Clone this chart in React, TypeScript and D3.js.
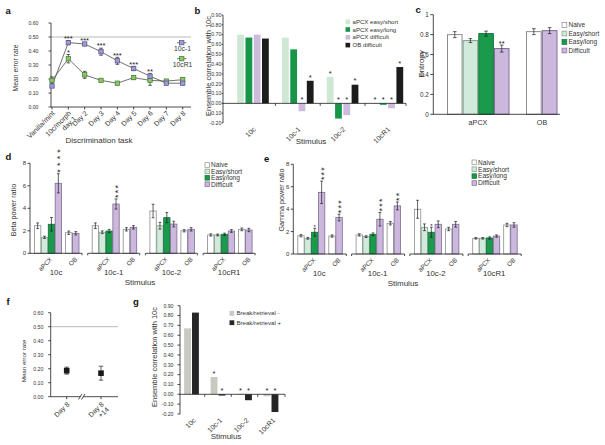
import React from 'react';
import * as d3 from 'd3';

const FONT = "'Liberation Sans', Arial, Helvetica, sans-serif";
const INK = '#1e1e1e';
const AX = 0.8;

// ---------------- Panel a data ----------------
const aTasks = ['Vanilla/mint', '10c/morph|day 1', 'Day 2', 'Day 3', 'Day 4', 'Day 5', 'Day 6', 'Day 7', 'Day 8'];
const a10c1 = [0.15, 0.46, 0.45, 0.395, 0.33, 0.275, 0.22, 0.17, 0.17];
const a10c1Err = [0.01, 0.015, 0.01, 0.025, 0.025, 0.015, 0.02, 0.01, 0.01];
const a10cR1 = [0.19, 0.345, 0.23, 0.19, 0.17, 0.21, 0.19, 0.185, 0.195];
const a10cR1Err = [0.025, 0.03, 0.025, 0.01, 0.01, 0.012, 0.035, 0.01, 0.012];
const a10c1Stars = ['', '***', '***', '***', '***', '***', '**', '', ''];
const a10cR1Stars = ['', '*', '', '', '', '', '', '', ''];
const errorTicks = [0, 0.1, 0.2, 0.3, 0.4, 0.5, 0.6];

// ---------------- Panel b data ----------------
const bStimuli = ['10c', '10c-1', '10c-2', '10cR1'];
const bSeries = ['aPCX easy/short', 'aPCX easy/long', 'aPCX difficult', 'OB difficult'];
const bEasyShort = [0.70, 0.67, 0.27, 0.004];
const bEasyLong = [0.67, 0.55, -0.155, -0.015];
const bDifficult = [0.70, -0.08, -0.12, -0.05];
const bOBDifficult = [0.66, 0.23, 0.19, 0.37];
const bEasyShortStars = ['', '', '*', '*'];
const bEasyLongStars = ['', '', '*', '*'];
const bDifficultStars = ['', '*', '*', '*'];
const bOBDifficultStars = ['', '*', '*', '*'];
const corrTicks = [-0.2, -0.1, 0, 0.1, 0.2, 0.3, 0.4, 0.5, 0.6, 0.7, 0.8, 0.9];

// ---------------- Panel c data ----------------
const cConditions = ['Naive', 'Easy/short', 'Easy/long', 'Difficult'];
const cAPCX = [0.80, 0.74, 0.81, 0.66];
const cAPCXErr = [0.03, 0.02, 0.025, 0.035];
const cAPCXStars = ['', '', '', '**'];
const cOBConditions = ['Naive', 'Difficult'];
const cOB = [0.83, 0.84];
const cOBErr = [0.03, 0.03];
const entropyTicks = [0, 0.2, 0.4, 0.6, 0.8, 1];

// ---------------- Panel d data (beta) ----------------
const powerStimuli = ['10c', '10c-1', '10c-2', '10cR1'];
const dNaive = [2.45, 2.45, 3.76, 1.63];
const dNaiveErr = [0.25, 0.25, 0.6, 0.1];
const dEasyShort = [1.42, 1.87, 2.45, 1.63];
const dEasyShortErr = [0.1, 0.12, 0.3, 0.08];
const dEasyLong = [2.58, 1.98, 3.17, 1.69];
const dEasyLongErr = [0.6, 0.15, 0.45, 0.1];
const dDifficult = [6.22, 4.38, 2.6, 1.98];
const dDifficultErr = [0.85, 0.45, 0.25, 0.12];
const dOBNaive = [1.83, 2.13, 2.0, 2.13];
const dOBNaiveErr = [0.15, 0.15, 0.1, 0.12];
const dOBDifficult = [1.78, 2.31, 2.13, 2.07];
const dOBDifficultErr = [0.15, 0.15, 0.15, 0.15];
const dEasyLongStars = ['', '', '', ''];
const dDifficultStars = ['****', '***', '', ''];
const dOBDifficultStars = ['', '', '', ''];

// ---------------- Panel e data (gamma) ----------------
const eNaive = [1.63, 1.7, 3.99, 1.4];
const eNaiveErr = [0.1, 0.1, 0.8, 0.07];
const eEasyShort = [1.4, 1.55, 2.38, 1.4];
const eEasyShortErr = [0.08, 0.08, 0.3, 0.07];
const eEasyLong = [1.94, 1.76, 1.94, 1.43];
const eEasyLongErr = [0.35, 0.12, 0.45, 0.1];
const eDifficult = [5.5, 3.1, 2.65, 1.6];
const eDifficultErr = [1.0, 0.6, 0.3, 0.1];
const eOBNaive = [1.6, 2.74, 2.23, 2.59];
const eOBNaiveErr = [0.1, 0.15, 0.15, 0.15];
const eOBDifficult = [3.25, 4.29, 2.65, 2.59];
const eOBDifficultErr = [0.3, 0.35, 0.25, 0.2];
const eEasyLongStars = ['*', '', '*', ''];
const eDifficultStars = ['***', '***', '', ''];
const eOBDifficultStars = ['***', '**', '', ''];
const powerTicks = [0, 2, 4, 6, 8];

// ---------------- Panel f data ----------------
const fDays = ['Day 8', 'Day 8|+14'];
const fValues = [0.186, 0.168];
const fErr = [0.025, 0.05];

// ---------------- Panel g data ----------------
const gStimuli = ['10c', '10c-1', '10c-2', '10cR1'];
const gSeries = ['Break/retrieval -', 'Break/retrieval +'];
const gMinus = [0.67, 0.176, 0.005, -0.02];
const gPlus = [0.83, -0.013, -0.06, -0.18];
const gMinusStars = ['', '*', '*', '*'];
const gPlusStars = ['', '*', '*', '*'];

// ---------------- colours ----------------
const COND_FILL = ['#ffffff', '#d2eadb', '#1b9a4b', '#cbb8dc'];
const COND_STROKE = ['#8c8c8c', '#7f9f8a', '#11703a', '#7e6c96'];
const B_FILL = ['#cfe8d6', '#17964a', '#cdbbdd', '#1c1c1c'];
const G_FILL = ['#c9c9c3', '#262626'];

// ---------------- helpers ----------------
function ErrBar({ x, y1, y2, cap = 1.6 }: any) {
  return (
    <g stroke={INK} strokeWidth={0.7}>
      <line x1={x} x2={x} y1={y1} y2={y2} />
      <line x1={x - cap} x2={x + cap} y1={y1} y2={y1} />
      <line x1={x - cap} x2={x + cap} y1={y2} y2={y2} />
    </g>
  );
}

function YAxis({ x, scale, ticks, fmt, fs, len = 2.5, gap = 1.5 }: any) {
  const [a, b] = scale.domain();
  return (
    <g>
      <line x1={x} x2={x} y1={scale(a)} y2={scale(b)} stroke={INK} strokeWidth={AX} />
      {ticks.map((t: number) => (
        <g key={t}>
          <line x1={x - len} x2={x} y1={scale(t)} y2={scale(t)} stroke={INK} strokeWidth={AX} />
          <text x={x - len - gap} y={scale(t)} dy="0.35em" textAnchor="end" fontSize={fs} fill="#333">
            {fmt(t)}
          </text>
        </g>
      ))}
    </g>
  );
}

function RotText({ x, y, text, fs }: any) {
  const lines = text.split('|');
  return (
    <text transform={`translate(${x},${y}) rotate(-45)`} textAnchor="end" fontSize={fs} fill="#333">
      {lines.map((l: string, i: number) => (
        <tspan key={i} x={0} dy={i === 0 ? '0.35em' : '1.05em'}>
          {l}
        </tspan>
      ))}
    </text>
  );
}

function VTitle({ x, y, text, fs }: any) {
  return (
    <text transform={`translate(${x},${y}) rotate(-90)`} textAnchor="middle" fontSize={fs} fill="#333">
      {text}
    </text>
  );
}

function HStars({ x, cy, s, fs = 7 }: any) {
  if (!s) return null;
  return (
    <text x={x} y={cy + 0.57 * fs} textAnchor="middle" fontSize={fs} fill={INK}>
      {s}
    </text>
  );
}

function VStars({ x, yb, s, fs = 9, ls = 1.2 }: any) {
  if (!s) return null;
  return (
    <text
      transform={`translate(${x + 0.57 * fs},${yb}) rotate(-90)`}
      textAnchor="start"
      fontSize={fs}
      letterSpacing={ls}
      fill={INK}
    >
      {s}
    </text>
  );
}

function Letter({ x, y, t }: any) {
  return (
    <text x={x} y={y} fontSize={9.5} fontWeight="bold" fill="#111">
      {t}
    </text>
  );
}

// ---------------- Panel a ----------------
function PanelA() {
  const x = d3.scalePoint<string>().domain(aTasks).range([52, 182.7]);
  const y = d3.scaleLinear().domain([0, 0.6]).range([107, 23]);
  const xs = aTasks.map((t) => x(t) as number);
  const line = d3
    .line<number>()
    .x((_, i) => xs[i])
    .y((d) => y(d));
  const series = [
    { v: a10cR1, e: a10cR1Err, s: a10cR1Stars, fill: '#8cc46a', stroke: '#3e7f2c' },
    { v: a10c1, e: a10c1Err, s: a10c1Stars, fill: '#9d98cf', stroke: '#55548e' },
  ];
  const m = 4.4;
  return (
    <g>
      <Letter x={5.5} y={13.5} t="a" />
      <line x1={51} x2={191} y1={y(0.5)} y2={y(0.5)} stroke="#a8a8a8" strokeWidth={0.8} />
      <YAxis x={51} scale={y} ticks={errorTicks} fmt={(t: number) => t.toFixed(2)} fs={5.2} gap={10} />
      <line x1={51} x2={191} y1={y(0)} y2={y(0)} stroke={INK} strokeWidth={AX} />
      {xs.map((xx, i) => (
        <line key={i} x1={xx} x2={xx} y1={y(0)} y2={y(0) + 2.5} stroke={INK} strokeWidth={AX} />
      ))}
      {aTasks.map((t, i) => (
        <RotText key={t} x={xs[i] + 1.5} y={112} text={t} fs={7} />
      ))}
      {series.map((s, k) => (
        <path key={k} d={line(s.v) as string} fill="none" stroke="#4d4d4d" strokeWidth={0.8} />
      ))}
      {series.map((s, k) =>
        s.v.map((v, i) => <ErrBar key={k + '-' + i} x={xs[i]} y1={y(v + s.e[i])} y2={y(v - s.e[i])} cap={1.8} />)
      )}
      {series.map((s, k) =>
        s.v.map((v, i) => (
          <rect
            key={'m' + k + i}
            x={xs[i] - m / 2}
            y={y(v) - m / 2}
            width={m}
            height={m}
            fill={s.fill}
            stroke={s.stroke}
            strokeWidth={0.7}
          />
        ))
      )}
      {series.map((s, k) =>
        s.v.map((v, i) => <HStars key={'s' + k + i} x={xs[i]} cy={y(v + s.e[i]) - 4} s={s.s[i]} fs={7.5} />)
      )}
      {/* legend */}
      {series
        .slice()
        .reverse()
        .map((s, k) => {
          const cy = 42.7 + k * 16;
          const label = k === 0 ? '10c-1' : '10cR1';
          return (
            <g key={'lg' + k}>
              <line x1={177} x2={186.5} y1={cy} y2={cy} stroke="#4d4d4d" strokeWidth={0.8} />
              <rect x={181.7 - m / 2} y={cy - m / 2} width={m} height={m} fill={s.fill} stroke={s.stroke} strokeWidth={0.7} />
              <text x={182.5} y={cy + 8.5} textAnchor="middle" fontSize={6.8} fill="#333">
                {label}
              </text>
            </g>
          );
        })}
      <VTitle x={17.5} y={68} text="Mean error rate" fs={6.8} />
      <text x={99} y={143} textAnchor="middle" fontSize={8} fill="#333">
        Discrimination task
      </text>
    </g>
  );
}

// ---------------- Panel b ----------------
function PanelB() {
  const y = d3.scaleLinear().domain([-0.2, 0.9]).range([123, 15]);
  const gx = d3.scalePoint<string>().domain(bStimuli).range([253, 387.4]);
  const bx = d3.scaleBand<string>().domain(bSeries).range([-15.8, 15.8]).paddingInner(0.18);
  const step = gx.step();
  const series = [
    { v: bEasyShort, s: bEasyShortStars },
    { v: bEasyLong, s: bEasyLongStars },
    { v: bDifficult, s: bDifficultStars },
    { v: bOBDifficult, s: bOBDifficultStars },
  ];
  const bounds = bStimuli.slice(0, 3).map((g) => (gx(g) as number) + step / 2);
  return (
    <g>
      <Letter x={194.5} y={13.5} t="b" />
      <YAxis x={223} scale={y} ticks={corrTicks} fmt={(t: number) => t.toFixed(2)} fs={5.2} len={1.3} gap={0.4} />
      {series.map((s, k) =>
        s.v.map((v, i) => {
          const xx = (gx(bStimuli[i]) as number) + (bx(bSeries[k]) as number);
          return (
            <rect
              key={k + '-' + i}
              x={xx}
              width={bx.bandwidth()}
              y={Math.min(y(v), y(0))}
              height={Math.abs(y(v) - y(0))}
              fill={B_FILL[k]}
            />
          );
        })
      )}
      <line x1={223} x2={406} y1={y(0)} y2={y(0)} stroke={INK} strokeWidth={AX} />
      {[...bounds, 406].map((b, i) => (
        <line key={i} x1={b} x2={b} y1={y(0)} y2={y(0) + 2.5} stroke={INK} strokeWidth={AX} />
      ))}
      {series.map((s, k) =>
        s.v.map((v, i) => {
          const xx = (gx(bStimuli[i]) as number) + (bx(bSeries[k]) as number) + bx.bandwidth() / 2;
          return <HStars key={'s' + k + i} x={xx} cy={y(Math.max(v, 0)) - 5.5} s={s.s[i]} fs={7.5} />;
        })
      )}
      {bStimuli.map((g) => (
        <RotText key={g} x={(gx(g) as number) + 1.5} y={128} text={g} fs={7} />
      ))}
      {/* legend */}
      {bSeries.map((name, k) => (
        <g key={name}>
          <rect x={345.5} y={21.7 + k * 7.8 - 2.3} width={4.6} height={4.6} fill={B_FILL[k]} />
          <text x={352.5} y={21.7 + k * 7.8} dy="0.35em" fontSize={6.1} fill="#333">
            {name}
          </text>
        </g>
      ))}
      <VTitle x={210.5} y={66} text="Ensemble correlation with 10c" fs={7.5} />
      <text x={311} y={143.5} textAnchor="middle" fontSize={8} fill="#333">
        Stimulus
      </text>
    </g>
  );
}

// ---------------- Panel c ----------------
function PanelC() {
  const y = d3.scaleLinear().domain([0, 1]).range([114.3, 14.7]);
  const ax = d3.scaleBand<string>().domain(cConditions).range([447.5, 509]).paddingInner(0.07);
  const ox = d3.scaleBand<string>().domain(cOBConditions).range([526.5, 557]).paddingInner(0.07);
  const bars = [
    ...cConditions.map((c, i) => ({ x: ax(c) as number, w: ax.bandwidth(), v: cAPCX[i], e: cAPCXErr[i], ci: i, s: cAPCXStars[i] })),
    ...cOBConditions.map((c, i) => ({ x: ox(c) as number, w: ox.bandwidth(), v: cOB[i], e: cOBErr[i], ci: cConditions.indexOf(c), s: '' })),
  ];
  return (
    <g>
      <Letter x={415.5} y={13} t="c" />
      <YAxis x={433.3} scale={y} ticks={entropyTicks} fmt={(t: number) => String(t)} fs={6.3} len={3} />
      {bars.map((b, i) => (
        <g key={i}>
          <rect
            x={b.x}
            width={b.w}
            y={y(b.v)}
            height={y(0) - y(b.v)}
            fill={COND_FILL[b.ci]}
            stroke={COND_STROKE[b.ci]}
            strokeWidth={1}
          />
          <ErrBar x={b.x + b.w / 2} y1={y(b.v + b.e)} y2={y(b.v - b.e)} cap={1.8} />
          <HStars x={b.x + b.w / 2} cy={y(b.v + b.e) - 3.5} s={b.s} fs={7.5} />
        </g>
      ))}
      <line x1={433.3} x2={560} y1={y(0)} y2={y(0)} stroke={INK} strokeWidth={AX} />
      <text x={478} y={124.5} textAnchor="middle" fontSize={7.2} fill="#333">
        aPCX
      </text>
      <text x={542} y={124.5} textAnchor="middle" fontSize={7.2} fill="#333">
        OB
      </text>
      {cConditions.map((c, k) => (
        <g key={c}>
          <rect
            x={562}
            y={25 + k * 8.5 - 2.4}
            width={4.8}
            height={4.8}
            fill={COND_FILL[k]}
            stroke={COND_STROKE[k]}
            strokeWidth={0.7}
          />
          <text x={568.5} y={25 + k * 8.5} dy="0.35em" fontSize={6.5} fill="#333">
            {c}
          </text>
        </g>
      ))}
      <VTitle x={423.5} y={64} text="Entropy" fs={8} />
    </g>
  );
}

// ---------------- Panels d & e ----------------
function PowerPanel(p: any) {
  const y = d3.scaleLinear().domain([0, 8]).range([p.yBase, p.yTop]);
  const stim = d3.scaleBand<string>().domain(powerStimuli).range([p.x0, p.x0 + p.step * 4]);
  const ab = d3.scaleBand<string>().domain(cConditions).range([4.5, 31.5]).paddingInner(0.08);
  const ob = d3.scaleBand<string>().domain(cOBConditions).range([35.5, 49]).paddingInner(0.08);
  const aSeries = [
    { v: p.naive, e: p.naiveErr, s: null },
    { v: p.es, e: p.esErr, s: null },
    { v: p.el, e: p.elErr, s: p.elStars },
    { v: p.diff, e: p.diffErr, s: p.diffStars },
  ];
  const oSeries = [
    { v: p.obN, e: p.obNErr, s: null, ci: 0 },
    { v: p.obD, e: p.obDErr, s: p.obDStars, ci: 3 },
  ];
  const base = y(0);
  return (
    <g>
      <Letter x={p.lx} y={p.ly} t={p.letter} />
      <YAxis x={p.x0} scale={y} ticks={powerTicks} fmt={(t: number) => String(t)} fs={6} len={2.5} />
      {powerStimuli.map((st, i) => {
        const sx = stim(st) as number;
        const end = sx + p.segLen;
        return (
          <g key={st}>
            {aSeries.map((s, k) => {
              const bx = sx + (ab(cConditions[k]) as number);
              const w = ab.bandwidth();
              const v = s.v[i];
              return (
                <g key={'a' + k}>
                  <rect x={bx} width={w} y={y(v)} height={base - y(v)} fill={COND_FILL[k]} stroke={COND_STROKE[k]} strokeWidth={0.8} />
                  <ErrBar x={bx + w / 2} y1={y(v + s.e[i])} y2={y(v - s.e[i])} cap={1.4} />
                  {k === 3 ? (
                    <VStars x={bx + w / 2} yb={y(v + s.e[i]) - 1} s={s.s ? s.s[i] : ''} fs={9} ls={p.ls ? p.ls[i] : 1.2} />
                  ) : (
                    <HStars x={bx + w / 2} cy={y(v + s.e[i]) - 2.5} s={s.s ? s.s[i] : ''} fs={6} />
                  )}
                </g>
              );
            })}
            {oSeries.map((s, k) => {
              const bx = sx + (ob(cOBConditions[k]) as number);
              const w = ob.bandwidth();
              const v = s.v[i];
              return (
                <g key={'o' + k}>
                  <rect x={bx} width={w} y={y(v)} height={base - y(v)} fill={COND_FILL[s.ci]} stroke={COND_STROKE[s.ci]} strokeWidth={0.8} />
                  <ErrBar x={bx + w / 2} y1={y(v + s.e[i])} y2={y(v - s.e[i])} cap={1.4} />
                  <VStars x={bx + w / 2} yb={y(v + s.e[i]) - 1} s={s.s ? s.s[i] : ''} fs={9} ls={1.2} />
                </g>
              );
            })}
            <line x1={sx} x2={end} y1={base} y2={base} stroke={INK} strokeWidth={AX} />
            {i > 0 && <line x1={sx} x2={sx} y1={base} y2={base + 2} stroke={INK} strokeWidth={AX} />}
            <line x1={end} x2={end} y1={base} y2={base + 2} stroke={INK} strokeWidth={AX} />
            <RotText x={sx + 18 + 3} y={base + 5} text="aPCX" fs={6.3} />
            <RotText x={sx + 42.2 + 4} y={base + 5} text="OB" fs={6.3} />
            <text x={sx + 26} y={base + 22} textAnchor="middle" fontSize={7.8} fill="#333">
              {st}
            </text>
          </g>
        );
      })}
      {cConditions.map((c, k) => (
        <g key={c}>
          <rect
            x={p.legX}
            y={p.legY + k * p.legStep - 2.3}
            width={4.6}
            height={4.6}
            fill={COND_FILL[k]}
            stroke={COND_STROKE[k]}
            strokeWidth={0.7}
          />
          <text x={p.legX + 6} y={p.legY + k * p.legStep} dy="0.35em" fontSize={6.6} fill="#333">
            {c}
          </text>
        </g>
      ))}
      <VTitle x={p.titleX} y={p.titleY} text={p.title} fs={7.2} />
      <text x={p.stimX} y={base + 32} textAnchor="middle" fontSize={8} fill="#333">
        Stimulus
      </text>
    </g>
  );
}

// ---------------- Panel f ----------------
function PanelF() {
  const y = d3.scaleLinear().domain([0, 0.6]).range([396.7, 312.7]);
  const x = d3.scalePoint<string>().domain(fDays).range([66.7, 101]);
  const m = 5.6;
  return (
    <g>
      <Letter x={6.5} y={305} t="f" />
      <line x1={50.7} x2={118} y1={y(0.5)} y2={y(0.5)} stroke="#a8a8a8" strokeWidth={0.8} />
      <YAxis x={50.7} scale={y} ticks={errorTicks} fmt={(t: number) => t.toFixed(2)} fs={5.2} gap={4.8} />
      <line x1={50.7} x2={118} y1={y(0)} y2={y(0)} stroke={INK} strokeWidth={AX} />
      <rect x={80.3} y={y(0) - 1.5} width={3} height={3} fill="#fff" />
      <line x1={78.5} x2={82} y1={y(0) + 2.8} y2={y(0) - 2.8} stroke={INK} strokeWidth={AX} />
      <line x1={81.5} x2={85} y1={y(0) + 2.8} y2={y(0) - 2.8} stroke={INK} strokeWidth={AX} />
      {fDays.map((d, i) => {
        const xx = x(d) as number;
        return (
          <g key={d}>
            <line x1={xx} x2={xx} y1={y(0)} y2={y(0) + 2.5} stroke={INK} strokeWidth={AX} />
            <ErrBar x={xx} y1={y(fValues[i] + fErr[i])} y2={y(fValues[i] - fErr[i])} cap={2.2} />
            <rect x={xx - m / 2} y={y(fValues[i]) - m / 2} width={m} height={m} fill="#1a1a1a" />
            <RotText x={xx + 1.5} y={403} text={d} fs={7} />
          </g>
        );
      })}
      <VTitle x={25.5} y={361} text="Mean error rate" fs={6.2} />
    </g>
  );
}

// ---------------- Panel g ----------------
function PanelG() {
  const y = d3.scaleLinear().domain([-0.2, 0.9]).range([414, 305.7]);
  const gx = d3.scalePoint<string>().domain(gStimuli).range([191.5, 271]);
  const bx = d3.scaleBand<string>().domain(gSeries).range([-7.4, 7.4]).paddingInner(0.13);
  const step = gx.step();
  const series = [
    { v: gMinus, s: gMinusStars },
    { v: gPlus, s: gPlusStars },
  ];
  const bounds = gStimuli.slice(0, 3).map((g) => (gx(g) as number) + step / 2);
  return (
    <g>
      <Letter x={133} y={305} t="g" />
      <YAxis x={180} scale={y} ticks={corrTicks} fmt={(t: number) => t.toFixed(2)} fs={5.2} gap={4} />
      {series.map((s, k) =>
        s.v.map((v, i) => {
          const xx = (gx(gStimuli[i]) as number) + (bx(gSeries[k]) as number);
          return (
            <rect
              key={k + '-' + i}
              x={xx}
              width={bx.bandwidth()}
              y={Math.min(y(v), y(0))}
              height={Math.abs(y(v) - y(0))}
              fill={G_FILL[k]}
            />
          );
        })
      )}
      <line x1={180} x2={285} y1={y(0)} y2={y(0)} stroke={INK} strokeWidth={AX} />
      {[...bounds, 285].map((b, i) => (
        <line key={i} x1={b} x2={b} y1={y(0)} y2={y(0) + 2.5} stroke={INK} strokeWidth={AX} />
      ))}
      {series.map((s, k) =>
        s.v.map((v, i) => {
          const xx = (gx(gStimuli[i]) as number) + (bx(gSeries[k]) as number) + bx.bandwidth() / 2;
          return <HStars key={'s' + k + i} x={xx} cy={y(Math.max(v, 0)) - 5.5} s={s.s[i]} fs={7.5} />;
        })
      )}
      {gStimuli.map((g) => (
        <RotText key={g} x={(gx(g) as number) + 3} y={419} text={g} fs={7} />
      ))}
      {gSeries.map((name, k) => (
        <g key={name}>
          <rect x={229.5} y={313.3 + k * 9.4 - 2.4} width={4.8} height={4.8} fill={G_FILL[k]} />
          <text x={236.5} y={313.3 + k * 9.4} dy="0.35em" fontSize={6.1} fill="#333">
            {name}
          </text>
        </g>
      ))}
      <VTitle x={156.5} y={357} text="Ensemble correlation with 10c" fs={7.5} />
      <text x={226} y={438.5} textAnchor="middle" fontSize={8} fill="#333">
        Stimulus
      </text>
    </g>
  );
}

export default function App() {
  return (
    <svg
      width={605}
      height={445}
      style={{ position: 'absolute', left: 0, top: 0, background: '#fff' }}
      fontFamily={FONT}
    >
      <rect width={605} height={445} fill="#fff" />
      <PanelA />
      <PanelB />
      <PanelC />
      <PowerPanel
        letter="d"
        lx={5.5}
        ly={160}
        x0={30}
        step={57.7}
        segLen={52}
        yBase={253.3}
        yTop={163.3}
        naive={dNaive}
        naiveErr={dNaiveErr}
        es={dEasyShort}
        esErr={dEasyShortErr}
        el={dEasyLong}
        elErr={dEasyLongErr}
        diff={dDifficult}
        diffErr={dDifficultErr}
        obN={dOBNaive}
        obNErr={dOBNaiveErr}
        obD={dOBDifficult}
        obDErr={dOBDifficultErr}
        elStars={dEasyLongStars}
        diffStars={dDifficultStars}
        obDStars={dOBDifficultStars}
        ls={[3.2, 1.2, 1.2, 1.2]}
        legX={205}
        legY={165}
        legStep={6.4}
        title="Beta power ratio"
        titleX={15.5}
        titleY={210}
        stimX={140}
      />
      <PowerPanel
        letter="e"
        lx={264}
        ly={161.5}
        x0={293.3}
        step={58.3}
        segLen={53}
        yBase={254}
        yTop={164.3}
        naive={eNaive}
        naiveErr={eNaiveErr}
        es={eEasyShort}
        esErr={eEasyShortErr}
        el={eEasyLong}
        elErr={eEasyLongErr}
        diff={eDifficult}
        diffErr={eDifficultErr}
        obN={eOBNaive}
        obNErr={eOBNaiveErr}
        obD={eOBDifficult}
        obDErr={eOBDifficultErr}
        elStars={eEasyLongStars}
        diffStars={eDifficultStars}
        obDStars={eOBDifficultStars}
        legX={472}
        legY={162.3}
        legStep={6.9}
        title="Gamma power ratio"
        titleX={283.5}
        titleY={200}
        stimX={403}
      />
      <PanelF />
      <PanelG />
    </svg>
  );
}
